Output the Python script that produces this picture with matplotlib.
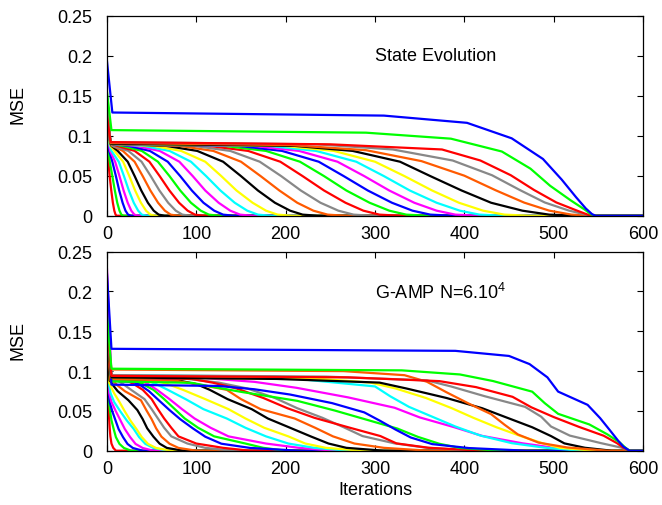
import matplotlib
matplotlib.use("Agg")
import matplotlib.pyplot as plt

plt.rcParams['font.family'] = ['Liberation Sans', 'DejaVu Sans']
plt.rcParams['mathtext.fontset'] = 'custom'
plt.rcParams['mathtext.rm'] = 'Liberation Sans'
plt.rcParams['mathtext.default'] = 'regular'

# gnuplot style colour cycle (curve k uses line_colors[k % 9])
line_colors = ['#ff0000', '#00ff00', '#0000ff', '#ff00ff', '#00ffff',
               '#ffff00', '#000000', '#ff5a00', '#888888']

x_ticks = [0, 100, 200, 300, 400, 500, 600]
y_ticks = [0, 0.05, 0.1, 0.15, 0.2, 0.25]
y_tick_labels = ['0', '0.05', '0.1', '0.15', '0.2', '0.25']

# ------------------------------
# State Evolution (top): 30 curves
# MSE at iteration 0, plateau level, iteration where plateau is reached,
# then the iteration where each curve crosses a fraction of its plateau
# ------------------------------
se_start = [0.120, 0.125, 0.130, 0.130, 0.135, 0.135, 0.140, 0.140, 0.140, 0.140,
            0.135, 0.135, 0.130, 0.130, 0.130, 0.125, 0.125, 0.125, 0.120, 0.120,
            0.120, 0.120, 0.125, 0.125, 0.130, 0.130, 0.135, 0.125, 0.155, 0.193]
se_plateau = [0.090] * 24 + [0.090, 0.091, 0.092, 0.092, 0.107, 0.129]
se_onset = [0.5, 1.0, 1.5, 2.0, 2.5, 3.0, 3.5, 4, 4, 4,
            4, 4, 4, 4, 4, 4, 4, 4, 4, 4,
            4, 4, 4, 4, 4, 4, 4, 4, 5, 6]
se_fracs = [0.97, 0.90, 0.75, 0.55, 0.35, 0.18, 0.07, 0.015, 0.0]
se_t97 = [0.7, 1.3, 1.8, 2.4, 3.2, 4, 5, 6, 6.2, 11.3,
          17, 24, 32, 41, 52, 66, 81, 97, 114, 131,
          147, 164, 181, 198, 210, 205, 235, 250, 290, 310]
se_t90 = [1.0, 1.8, 2.5, 3.5, 5.0, 8.3, 12, 17.8, 23.9, 31,
          39, 48, 59, 70, 83, 101, 119, 138, 158, 178,
          196, 215, 234, 254, 275, 290, 320, 375, 385, 403]
se_t75 = [1.6, 3.1, 6.0, 9.1, 13.2, 18.1, 23.2, 30.9, 38.7, 47.5,
          57, 68, 81, 94, 110, 130, 150, 171, 194, 216,
          237, 258, 279, 300, 328, 352, 387, 418, 442, 453]
se_t55 = [3, 6, 10, 14, 19, 25, 31, 40, 49, 59,
          70, 82, 96, 111, 128, 150, 172, 195, 219, 243,
          265, 288, 310, 333, 362, 400, 431, 452, 474, 488]
se_t35 = [4.8, 8.8, 13.7, 18.6, 24.5, 31.5, 38.4, 48.6, 58.7, 69.9,
          82, 95, 110, 127, 145, 169, 193, 217, 243, 268,
          292, 316, 339, 364, 397, 435, 462, 478, 496, 509]
se_t18 = [6.6, 11.5, 17.5, 23.2, 30, 38, 45.8, 57.2, 68.5, 80.7,
          94, 108, 125, 143, 163, 188, 213, 239, 267, 294,
          319, 344, 369, 394, 430, 467, 490, 503, 519, 525]
se_t07 = [8.2, 14, 20.7, 27.2, 34.9, 43.7, 52.3, 64.8, 77, 90.3,
          105, 120, 138, 157, 178, 205, 231, 259, 287, 316,
          342, 369, 395, 421, 465, 495, 517, 526, 535, 536]
se_t015 = [9.6, 16.1, 23.6, 30.7, 39, 48.6, 57.9, 71.3, 84.4, 98.5,
           114, 130, 149, 169, 191, 219, 247, 276, 305, 335,
           362, 390, 417, 445, 495, 520, 536, 538, 542, 543]
se_t0 = [11, 18.6, 27, 34.9, 44, 54.6, 64.6, 79, 93, 108,
         125, 142, 162, 183, 207, 236, 266, 296, 327, 358,
         387, 416, 444, 473, 530, 542, 545, 545, 546, 547]
se_cross = [se_t97, se_t90, se_t75, se_t55, se_t35, se_t18, se_t07, se_t015, se_t0]

# ------------------------------
# G-AMP N=6.10^4 (bottom): 30 curves, same layout as above
# ------------------------------
amp_start = [0.130, 0.150, 0.160, 0.170, 0.150, 0.140, 0.140, 0.140, 0.140, 0.140,
             0.150, 0.160, 0.170, 0.160, 0.150, 0.140, 0.140, 0.150, 0.140, 0.160,
             0.200, 0.228, 0.170, 0.160, 0.150, 0.150, 0.150, 0.160, 0.170, 0.222]
amp_plateau = [0.090, 0.085, 0.085, 0.085, 0.085, 0.085, 0.088, 0.088, 0.090, 0.090,
               0.090, 0.088, 0.090, 0.090, 0.090, 0.090, 0.090, 0.092, 0.092, 0.087,
               0.083, 0.093, 0.095, 0.092, 0.092, 0.102, 0.095, 0.094, 0.103, 0.128]
amp_onset = [0.4, 0.7, 0.9, 1.1, 1.4, 2.5, 3, 4, 5, 5,
             5, 5, 5, 5, 5, 5, 5, 5, 5, 5,
             5, 5, 5, 5, 5, 5, 5, 5, 5, 5]
amp_fracs = [0.98, 0.93, 0.85, 0.72, 0.58, 0.45, 0.32, 0.20, 0.10, 0.04, 0.0]
amp_t98 = [0.6, 1.0, 1.2, 1.5, 2, 3.5, 5, 8, 12, 22,
           28, 30, 38, 45, 55, 80, 75, 90, 95, 95,
           125, 110, 190, 240, 190, 265, 245, 270, 330, 390]
amp_t93 = [0.8, 1.3, 1.5, 2, 3, 5, 7, 12, 18, 30,
           40, 38, 46, 55, 68, 100, 100, 125, 118, 115,
           165, 165, 230, 295, 305, 333, 358, 372, 395, 450]
amp_t85 = [1.0, 1.6, 2, 2.5, 4, 8, 12, 20, 27, 40,
           52, 47, 56, 68, 85, 115, 134, 157, 145, 150,
           205, 212, 300, 323, 335, 358, 385, 413, 432, 473]
amp_t72 = [1.4, 2.2, 3, 5, 8, 14, 24, 38, 42, 50,
           64, 58, 70, 88, 110, 135, 150, 188, 175, 213,
           252, 270, 317, 357, 380, 380, 423, 454, 476, 493]
amp_t58 = [1.9, 3.5, 6, 10, 15, 20, 34, 44, 50, 57,
           76, 70, 84, 108, 136, 162, 172, 213, 202, 255,
           288, 322, 338, 386, 420, 405, 468, 475, 490, 505]
amp_t45 = [2.4, 5, 9.5, 15, 22, 26, 40, 50, 57, 64,
           87, 82, 98, 134, 155, 180, 210, 241, 232, 290,
           306, 350, 364, 410, 448, 430, 486, 500, 505, 538]
amp_t32 = [3.0, 7.5, 13, 20, 30, 33, 45, 55, 64, 72,
           102, 96, 116, 155, 176, 205, 233, 265, 270, 325,
           323, 388, 390, 436, 476, 445, 497, 528, 540, 552]
amp_t20 = [3.8, 10, 18, 26, 36, 39, 52, 61, 72, 80,
           120, 110, 136, 178, 203, 228, 253, 286, 306, 348,
           340, 420, 418, 463, 497, 460, 518, 556, 560, 563]
amp_t10 = [5, 14, 23, 32, 43, 46, 59, 70, 90, 100,
           155, 128, 178, 203, 222, 248, 277, 322, 324, 372,
           364, 465, 453, 488, 512, 483, 553, 571, 574, 572]
amp_t04 = [7, 19, 29, 40, 52, 55, 67, 80, 110, 130,
           175, 160, 215, 232, 245, 268, 310, 358, 360, 395,
           405, 500, 490, 507, 535, 515, 576, 578, 580, 578]
amp_t00 = [10, 27, 40, 52, 68, 72, 85, 100, 140, 160,
           200, 215, 255, 270, 285, 310, 360, 410, 420, 440,
           470, 540, 530, 545, 565, 560, 584, 585, 585, 585]
amp_cross = [amp_t98, amp_t93, amp_t85, amp_t72, amp_t58, amp_t45,
             amp_t32, amp_t20, amp_t10, amp_t04, amp_t00]


def curve(k, start, onset, plateau, fracs, cross):
    xs = [0, onset[k]] + [c[k] for c in cross] + [600]
    ys = [start[k], plateau[k]] + [f * plateau[k] for f in fracs] + [0]
    return xs, ys


def style_axis(ax):
    ax.set_xlim(0, 600)
    ax.set_ylim(0, 0.25)
    ax.set_xticks(x_ticks)
    ax.set_yticks(y_ticks)
    ax.set_yticklabels(y_tick_labels)
    ax.tick_params(direction='in', length=4.5, width=0.8, top=True, right=True,
                   labelsize=13)
    ax.tick_params(axis='x', pad=7)
    ax.tick_params(axis='y', pad=10.5)
    for s in ax.spines.values():
        s.set_linewidth(0.9)


fig = plt.figure(figsize=(6.62, 5.06), dpi=100)
ax1 = fig.add_axes([0.1616, 0.5717, 0.8097, 0.3953])
ax2 = fig.add_axes([0.1616, 0.1073, 0.8097, 0.3933])

for k in range(30):
    xs, ys = curve(k, se_start, se_onset, se_plateau, se_fracs, se_cross)
    ax1.plot(xs, ys, color=line_colors[k % 9], lw=1.6)
    xs, ys = curve(k, amp_start, amp_onset, amp_plateau, amp_fracs, amp_cross)
    ax2.plot(xs, ys, color=line_colors[k % 9], lw=1.6)

style_axis(ax1)
style_axis(ax2)

ax1.text(300, 0.2, 'State Evolution', fontsize=13, va='center', ha='left')
ax2.text(300, 0.2, 'G-AMP N=6.10$^{4}$', fontsize=13, va='center', ha='left')

fig.text(18 / 662, 1 - 105 / 506, 'MSE', rotation=90, fontsize=13, ha='center', va='center')
fig.text(18 / 662, 1 - 341 / 506, 'MSE', rotation=90, fontsize=13, ha='center', va='center')
fig.text(375 / 662, 1 - 491 / 506, 'Iterations', fontsize=13, ha='center', va='center')

fig.savefig('out.png', dpi=100)
